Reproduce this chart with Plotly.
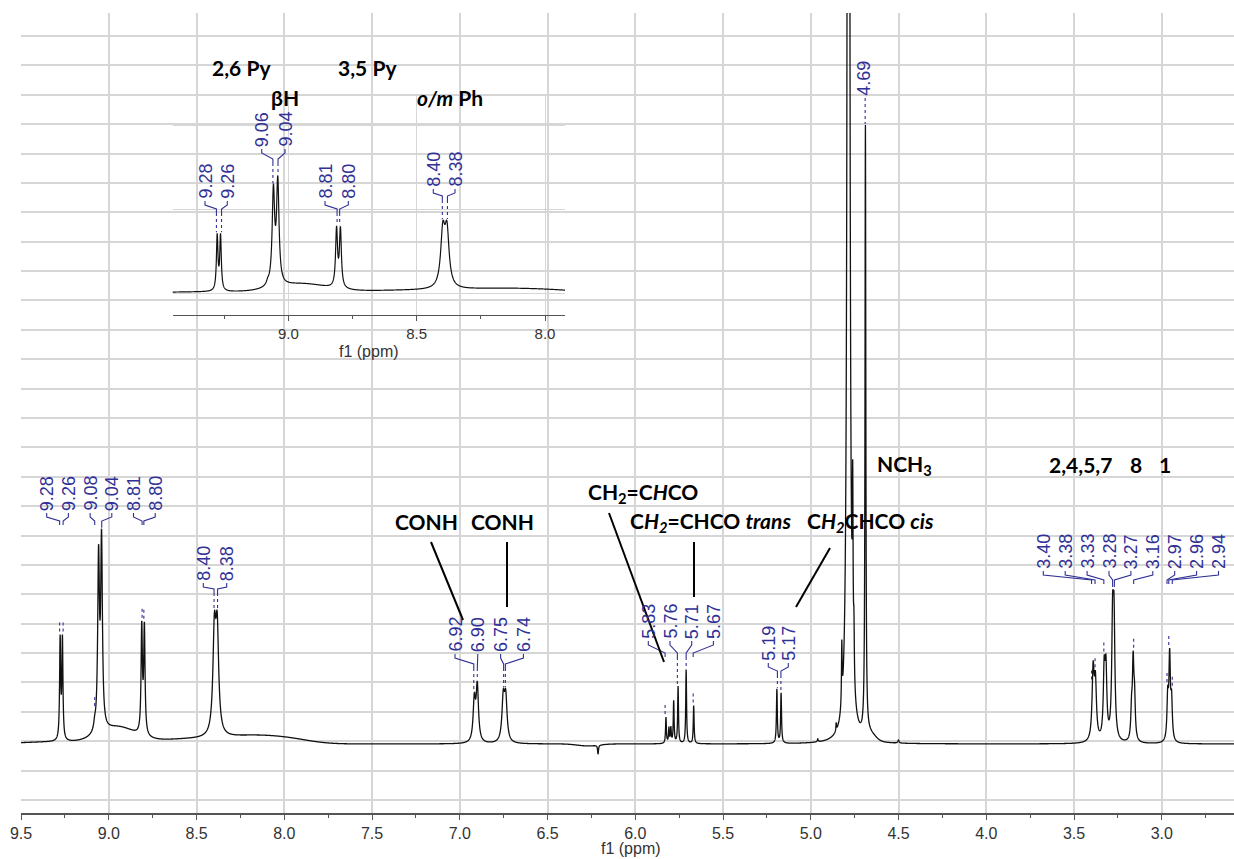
import numpy as np
import plotly.graph_objects as go

# ---------------- data: 1H NMR peak list ----------------
line_ppm = [9.277, 9.264, 9.080, 9.058, 9.041, 8.812, 8.797, 8.398, 8.382,
            6.917, 6.900, 6.752, 6.738, 6.212,
            5.825, 5.808, 5.797, 5.781, 5.756, 5.710, 5.667, 5.193, 5.169,
            4.960, 4.855, 4.823, 4.785, 4.761, 4.754, 4.6885, 4.500,
            3.391, 3.378, 3.328, 3.318, 3.280, 3.272, 3.172, 3.163, 3.155,
            2.966, 2.955, 2.944]
line_height = [100, 100, 6, 170, 186, 106, 106, 98, 98,
               41, 55, 42, 42, -9,
               26, 15, 15, 42, 57, 74, 38, 54, 50,
               3, 8, 60, 4000, 170, 50, 608, 3,
               69, 55, 66, 66, 108, 108, 28, 75, 38,
               42, 82, 38]
line_hwhm = [0.0036, 0.0036, 0.006, 0.0058, 0.0058, 0.0045, 0.0045, 0.010, 0.010,
             0.008, 0.008, 0.009, 0.009, 0.003,
             0.0028, 0.0028, 0.0028, 0.0028, 0.0028, 0.0028, 0.0028, 0.003, 0.003,
             0.003, 0.002, 0.0022, 0.004, 0.0025, 0.0025, 0.0028, 0.004,
             0.007, 0.007, 0.006, 0.006, 0.006, 0.006, 0.005, 0.005, 0.005,
             0.005, 0.005, 0.005]
# broad baseline components (centre ppm, height, sigma ppm)
bg_ppm = [9.30, 8.95, 8.50, 8.15, 7.95, 6.27, 4.66]
bg_height = [2, 15, 5, 6, 3, -2, 6]
bg_sigma = [0.20, 0.10, 0.25, 0.15, 0.12, 0.06, 0.03]

# peak labels (groups as printed on the spectrum)
main_label_groups = [
    ["9.28", "9.26", "9.08", "9.04", "8.81", "8.80"],
    ["8.40", "8.38"],
    ["6.92", "6.90", "6.75", "6.74"],
    ["5.83", "5.76", "5.71", "5.67"],
    ["5.19", "5.17"],
    ["4.69"],
    ["3.40", "3.38", "3.33", "3.28", "3.27", "3.16", "2.97", "2.96", "2.94"],
]
inset_label_groups = [
    ["9.28", "9.26"],
    ["9.06", "9.04"],
    ["8.81", "8.80"],
    ["8.40", "8.38"],
]
main_ticks = [9.5, 9.0, 8.5, 8.0, 7.5, 7.0, 6.5, 6.0, 5.5, 5.0, 4.5, 4.0, 3.5, 3.0]
inset_ticks = [9.0, 8.5, 8.0]

# ---------------- layout geometry (pixels of the 1234x859 page) ----------------
W, H = 1234, 859
L, R, T, B = 21, 1234, 13, 813
PPM_PX = 175.5
BASE = 744
IX0, IX1, IT, IB = 172.7, 565.0, 95, 315
IPX, IREF, IBASE, ISCALE = 256.7, 288.3, 293, 0.545

def mx(px): return 9.5 - (px - L) / PPM_PX
def my(py): return BASE - py
def ix(px): return 9.0 + (IREF - px) / IPX
def iy(py): return (IBASE - py) / ISCALE
def mpx(ppm): return L + (9.5 - ppm) * PPM_PX
def mpy(v): return BASE - v
def ipx(ppm): return IREF + (9.0 - ppm) * IPX
def ipy(v): return IBASE - v * ISCALE
def pxp(px): return (px - L) / (R - L)
def pyp(py): return (B - py) / (B - T)

# ---------------- spectrum ----------------
ppm = np.arange(2.55, 9.55, 0.0005)
inten = np.zeros_like(ppm)
for p, h, w in zip(line_ppm, line_height, line_hwhm):
    inten += h * w * w / ((ppm - p) ** 2 + w * w)
for p, h, s in zip(bg_ppm, bg_height, bg_sigma):
    inten += h * np.exp(-0.5 * ((ppm - p) / s) ** 2)

def top_at(v):
    m = np.abs(ppm - v) <= 0.005
    return float(inten[m].max())

BLUE = "rgb(48,48,150)"
fig = go.Figure()
fig.add_trace(go.Scatter(x=ppm, y=inten, mode="lines", xaxis="x", yaxis="y",
                         line=dict(color="#111111", width=1.3, simplify=False),
                         hoverinfo="skip", showlegend=False))
fig.add_trace(go.Scatter(x=ppm, y=inten, mode="lines", xaxis="x2", yaxis="y2",
                         line=dict(color="#111111", width=1.2, simplify=False),
                         hoverinfo="skip", showlegend=False))

annotations = []

def label_group(labels, lx0, sp, yb, yj, fx, fy, tpx, tpy, xa, ya):
    bx, by, dx, dy = [], [], [], []
    for i, lab in enumerate(labels):
        v = float(lab)
        lx = lx0 + i * sp
        tx = tpx(v)
        top = tpy(top_at(v))
        annotations.append(dict(text=lab, x=fx(lx), y=fy(yb), xref=xa, yref=ya,
                                textangle=-90, xanchor="center", yanchor="bottom",
                                showarrow=False, borderpad=0,
                                font=dict(family="Liberation Sans", size=18, color=BLUE)))
        if yj is None:
            dx += [fx(tx), fx(tx), None]
            dy += [fy(yb + 1), fy(top - 1), None]
            continue
        bx += [fx(lx), fx(lx), fx(tx), fx(tx), None]
        by += [fy(yb + 1), fy(yb + 5), fy(yj - 4), fy(yj), None]
        if top - yj < 30:
            dx += [fx(tx), fx(tx), None]
            dy += [fy(yj), fy(top - 1), None]
        else:
            dx += [fx(tx), fx(tx), None]
            dy += [fy(top - 12), fy(top - 1), None]
    xs, ys = ("x", "y") if xa == "x" else ("x2", "y2")
    fig.add_trace(go.Scatter(x=bx, y=by, mode="lines", xaxis=xs, yaxis=ys,
                             line=dict(color=BLUE, width=1.1), hoverinfo="skip",
                             showlegend=False))
    fig.add_trace(go.Scatter(x=dx, y=dy, mode="lines", xaxis=xs, yaxis=ys,
                             line=dict(color=BLUE, width=1.1, dash="dot"), hoverinfo="skip",
                             showlegend=False))

main_layout = [(46.7, 21.7, 512, 525), (203.3, 23.4, 582, 593), (455, 22.8, 653, 668),
               (648.3, 21.7, 640, 657), (768.3, 20, 662, 675), (863.3, 0, 97, None),
               (1043.3, 21.9, 570, 584)]
for labs, (lx0, sp, yb, yj) in zip(main_label_groups, main_layout):
    label_group(labs, lx0, sp, yb, yj, mx, my, mpx, mpy, "x", "y")

inset_layout = [(205, 22.3, 200, 213), (261.7, 23.3, 148, 163),
                (325, 23.3, 200, 213), (433.3, 21.7, 188, 200)]
for labs, (lx0, sp, yb, yj) in zip(inset_label_groups, inset_layout):
    label_group(labs, lx0, sp, yb, yj, ix, iy, ipx, ipy, "x2", "y2")

# assignment texts
notes = [
    ("2,6 Py", 242, 68), ("3,5 Py", 367.5, 68), ("βH", 285, 98),
    ("<i>o/m</i> Ph", 450, 98), ("NCH<sub>3</sub>", 905, 465),
    ("2,4,5,7", 1080, 464), ("8", 1136, 464), ("1", 1165, 464),
    ("CH<sub>2</sub>=C<i>H</i>CO", 643, 493), ("CONH", 426, 521), ("CONH", 502, 521),
    ("C<i>H<sub>2</sub></i>=CHCO <i>trans</i>", 710, 522),
    ("C<i>H<sub>2</sub></i>CHCO <i>cis</i>", 870, 522),
]
for txt, x, y in notes:
    annotations.append(dict(text="<b>" + txt + "</b>", x=pxp(x), y=pyp(y), xref="paper",
                            yref="paper", xanchor="center", yanchor="middle", showarrow=False,
                            font=dict(family="Lato", size=21, color="black")))

annotations.append(dict(text="f1 (ppm)", x=pxp(631), y=pyp(848), xref="paper", yref="paper",
                        xanchor="center", yanchor="middle", showarrow=False,
                        font=dict(family="Liberation Sans", size=16, color="#333333")))
annotations.append(dict(text="f1 (ppm)", x=pxp(368.5), y=pyp(352), xref="paper", yref="paper",
                        xanchor="center", yanchor="middle", showarrow=False,
                        font=dict(family="Liberation Sans", size=16, color="#333333")))

leaders = [(431, 542, 463, 620), (507, 542, 507, 607), (609, 513, 664, 662),
           (694, 542, 694, 597), (830, 548, 796, 607)]
shapes = [dict(type="line", xref="paper", yref="paper", x0=pxp(a), y0=pyp(b), x1=pxp(c),
               y1=pyp(d), line=dict(color="black", width=2)) for a, b, c, d in leaders]

GRID = "#d6d6d6"
AX = "#555555"
fig.update_layout(
    width=W, height=H, margin=dict(l=L, r=W - R, t=T, b=H - B),
    paper_bgcolor="white", plot_bgcolor="rgba(0,0,0,0)",
    annotations=annotations, shapes=shapes, showlegend=False,
    xaxis=dict(domain=[0, 1], range=[9.5, mx(R)], tickvals=main_ticks,
               ticktext=["%.1f" % t for t in main_ticks],
               showgrid=True, gridcolor=GRID, gridwidth=1.5, zeroline=False,
               showline=True, linecolor=AX, linewidth=1.5, ticks="outside", ticklen=5,
               tickwidth=1.3, tickcolor=AX,
               minor=dict(dtick=0.25, tick0=0, ticklen=3, tickcolor=AX, tickwidth=1.2, showgrid=False, ticks="outside"),
               tickfont=dict(family="Liberation Sans", size=16, color="#333333")),
    yaxis=dict(domain=[0, 1], range=[my(B), my(T)], tick0=my(800), dtick=29.385,
               showgrid=True, gridcolor=GRID, gridwidth=1.5, zeroline=False,
               showticklabels=False, showline=False, ticks=""),
    xaxis2=dict(domain=[pxp(IX0), pxp(IX1)], anchor="y2", range=[ix(IX0), ix(IX1)],
                tickvals=inset_ticks, ticktext=["%.1f" % t for t in inset_ticks],
                showgrid=True, gridcolor=GRID, gridwidth=1.3, zeroline=False,
                showline=True, linecolor=AX, linewidth=1.4, ticks="outside", ticklen=5,
                tickwidth=1.2, tickcolor=AX,
                minor=dict(dtick=0.25, tick0=0, ticklen=3, tickcolor=AX, tickwidth=1.1, showgrid=False, ticks="outside"),
                tickfont=dict(family="Liberation Sans", size=15, color="#333333")),
    yaxis2=dict(domain=[pyp(IB), pyp(IT)], anchor="x2", range=[iy(IB), iy(IT)],
                tick0=0, dtick=84 / ISCALE, showgrid=True, gridcolor=GRID, gridwidth=1.3,
                zeroline=False, showticklabels=False, showline=False, ticks=""),
)

fig.write_html("out.html", config={"displayModeBar": False},
               post_script="document.body.style.margin='0px';document.body.style.overflow='hidden';")
